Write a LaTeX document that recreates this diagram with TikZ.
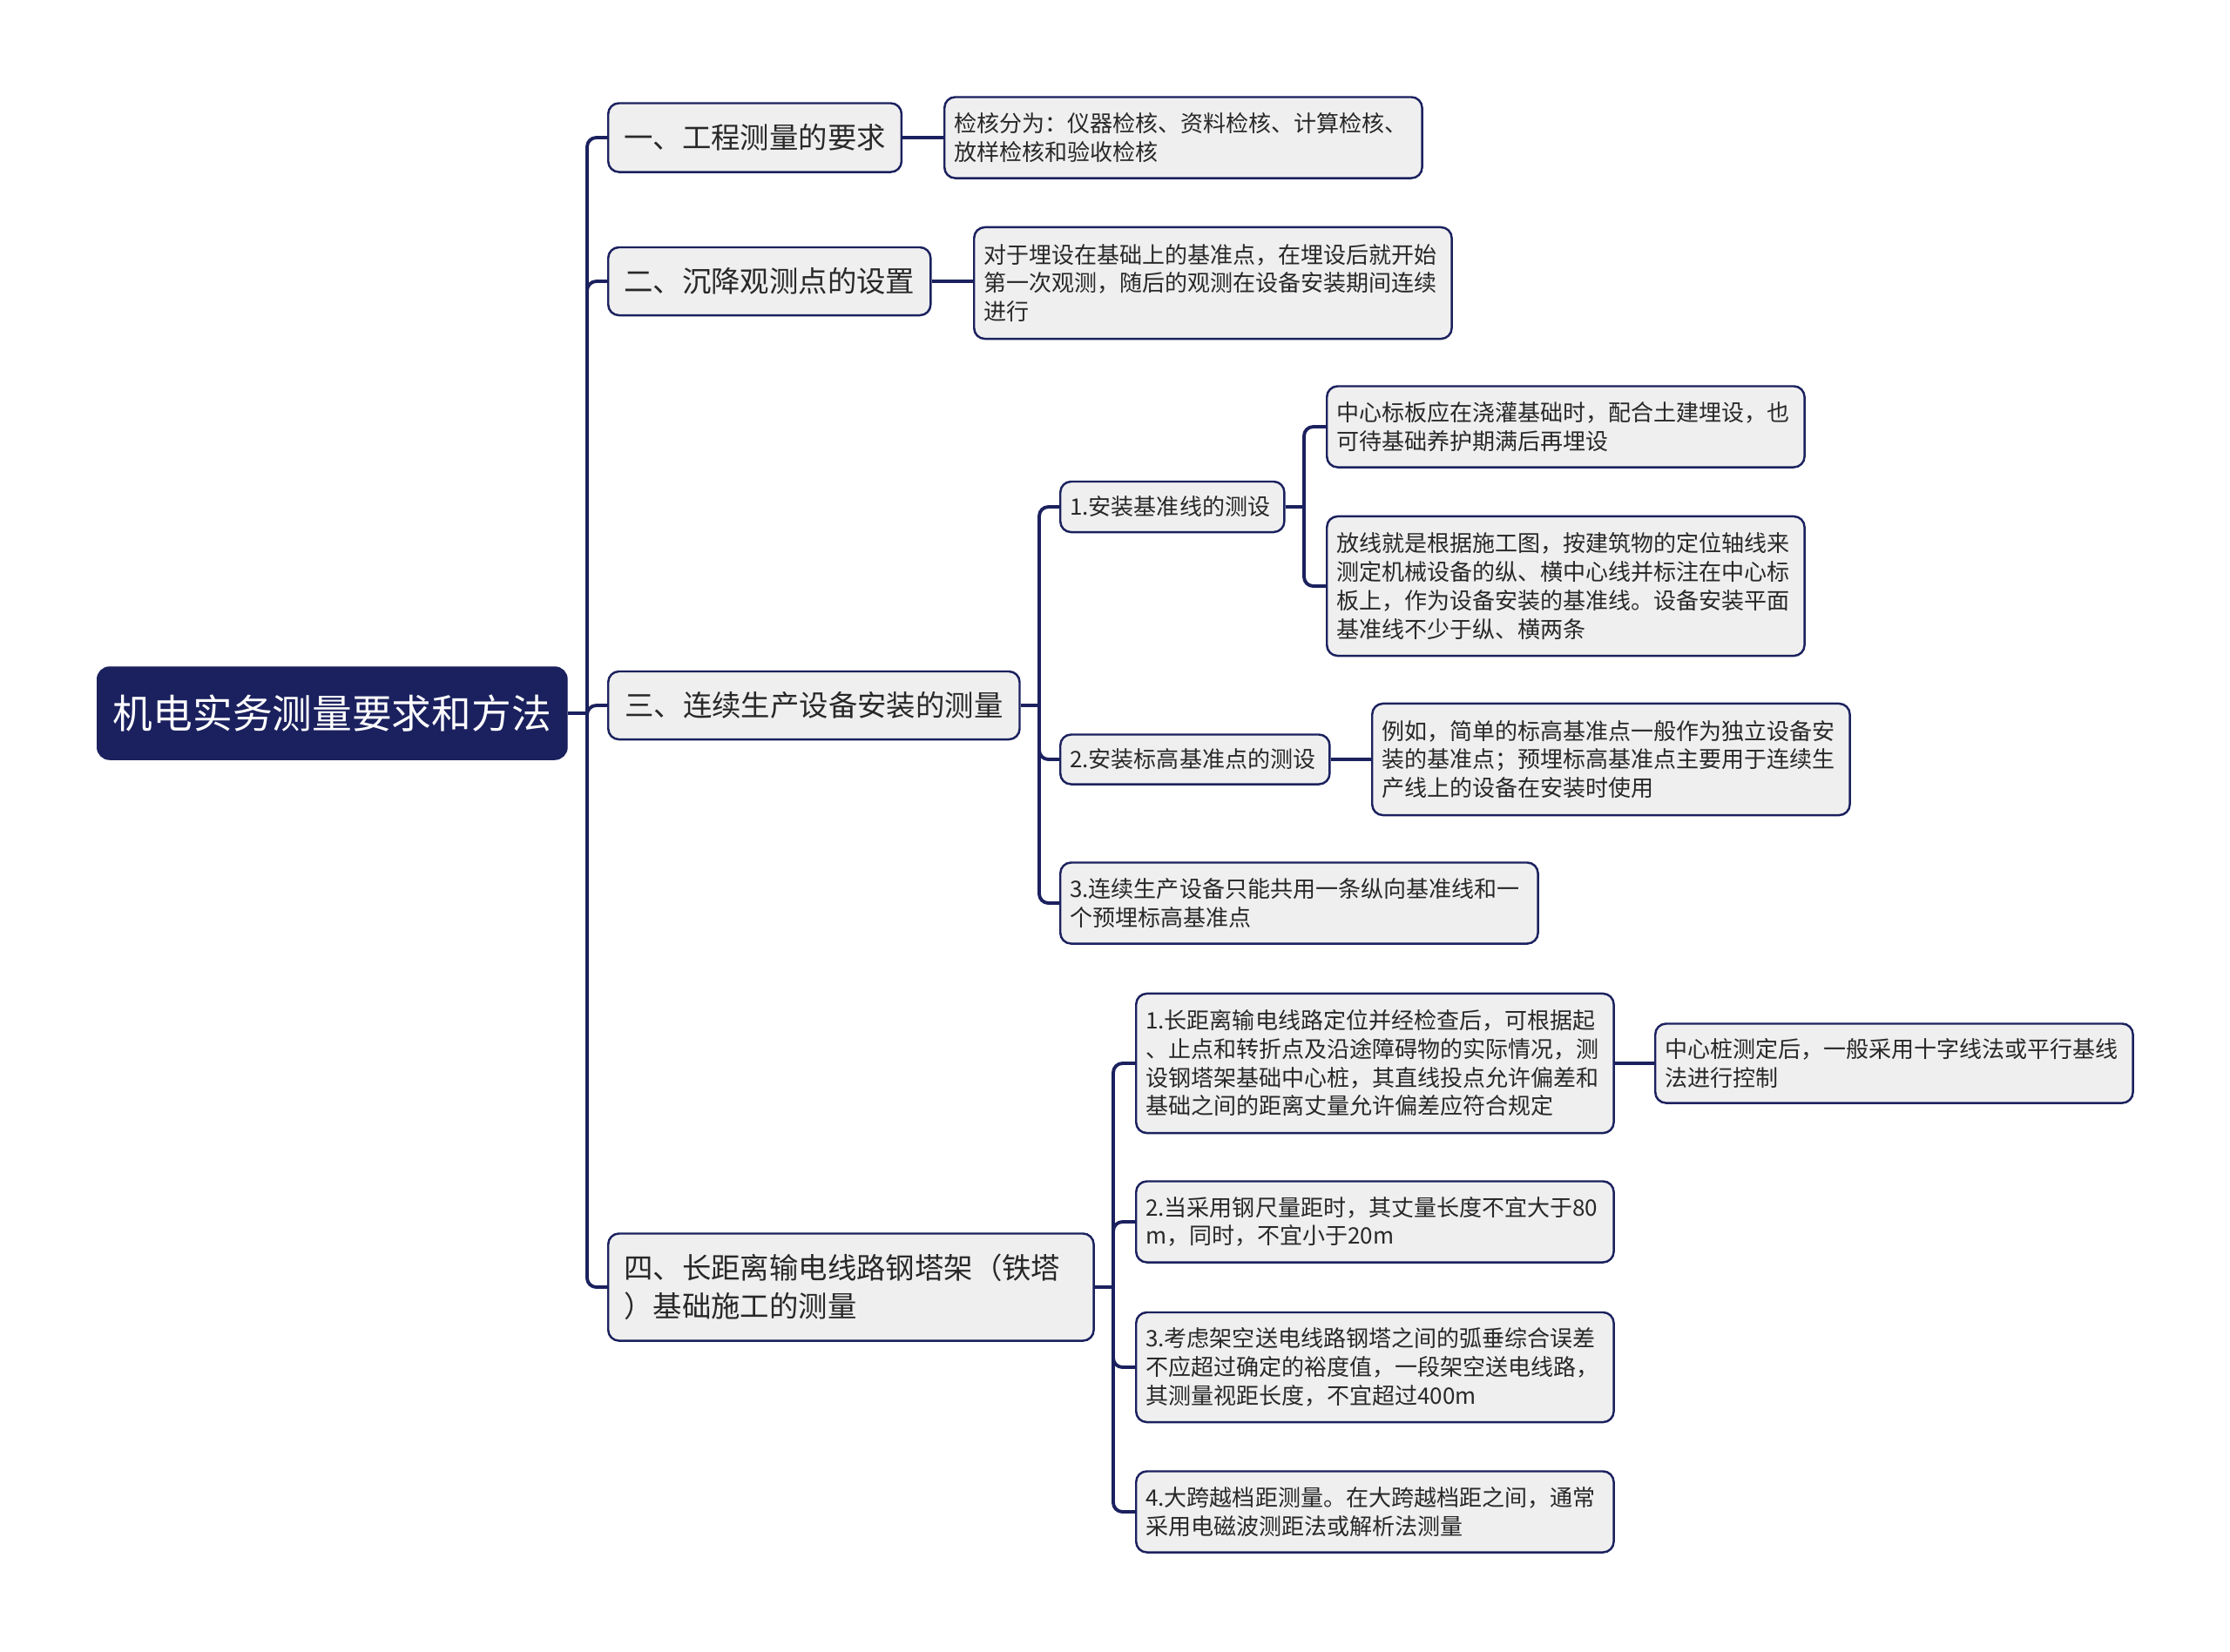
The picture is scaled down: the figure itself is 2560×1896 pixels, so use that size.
\documentclass[tikz,border=0pt]{standalone}
\usepackage{fontspec}
\setmainfont{Noto Sans CJK SC}
\usepackage{xcolor}
\usepackage{tikz}
\usetikzlibrary{calc}
\definecolor{navy}{RGB}{27,33,94}
\definecolor{boxgray}{RGB}{239,239,239}
\definecolor{textgray}{RGB}{40,40,40}

\begin{document}
\begin{tikzpicture}[x=0.01cm,y=-0.01cm,
			root/.style={draw=navy,fill=navy,rounded corners=4pt,text=white,anchor=west,
				font=\fontsize{13}{16}\selectfont,inner sep=0pt},
			topic/.style={draw=navy,fill=boxgray,rounded corners=3.5pt,text=textgray,anchor=west,
				line width=0.7pt,align=left,inner xsep=0.18cm,font=\fontsize{9.5}{12.5}\selectfont},
			leaf/.style={topic,inner xsep=0.11cm,text width=5.26cm,font=\fontsize{7.4}{9.3}\selectfont},
			sub/.style={leaf,text width=#1},
			link/.style={draw=navy,line width=1.1pt,rounded corners=3pt},
			]
			% 画布
			\fill[white] (0,0) rectangle (2560,1896);
			\useasboundingbox (0,0) rectangle (2560,1896);
			
			% 中心主题
			\node[root,minimum width=5.39cm,minimum height=1.06cm] (root) at (111,819) {机电实务测量要求和方法};
			
			% 一级主题
			\node[topic,minimum width=3.36cm,minimum height=0.79cm] (t1) at (697,158) {一、工程测量的要求};
			\node[topic,minimum width=3.69cm,minimum height=0.78cm] (t2) at (697,323) {二、沉降观测点的设置};
			\node[topic,minimum width=4.72cm,minimum height=0.78cm] (t3) at (697,810) {三、连续生产设备安装的测量};
			\node[topic,text width=5.21cm,minimum height=1.23cm] (t4) at (697,1478) {四、长距离输电线路钢塔架（铁塔\\）基础施工的测量};
			
			% 一、二
			\node[leaf,minimum height=0.93cm] (t1a) at (1083,158) {检核分为：仪器检核、资料检核、计算检核、\\放样检核和验收检核};
			\node[leaf,minimum height=1.28cm] (t2a) at (1117,325) {对于埋设在基础上的基准点，在埋设后就开始\\第一次观测，随后的观测在设备安装期间连续\\进行};
			
			% 三
			\node[sub=2.35cm,minimum height=0.58cm] (t3a) at (1216,582) {1.安装基准线的测设};
			\node[sub=2.87cm,minimum height=0.57cm] (t3b) at (1216,872) {2.安装标高基准点的测设};
			\node[leaf,minimum height=0.93cm] (t3c) at (1216,1037) {3.连续生产设备只能共用一条纵向基准线和一\\个预埋标高基准点};
			\node[leaf,minimum height=0.93cm] (t3a1) at (1522,490) {中心标板应在浇灌基础时，配合土建埋设，也\\可待基础养护期满后再埋设};
			\node[leaf,minimum height=1.60cm] (t3a2) at (1522,673) {放线就是根据施工图，按建筑物的定位轴线来\\测定机械设备的纵、横中心线并标注在中心标\\板上，作为设备安装的基准线。设备安装平面\\基准线不少于纵、横两条};
			\node[leaf,minimum height=1.28cm] (t3b1) at (1574,872) {例如，简单的标高基准点一般作为独立设备安\\装的基准点；预埋标高基准点主要用于连续生\\产线上的设备在安装时使用};
			
			% 四
			\node[leaf,minimum height=1.60cm] (t4a) at (1303,1221) {1.长距离输电线路定位并经检查后，可根据起\\、止点和转折点及沿途障碍物的实际情况，测\\设钢塔架基础中心桩，其直线投点允许偏差和\\基础之间的距离丈量允许偏差应符合规定};
			\node[leaf,minimum height=0.93cm] (t4b) at (1303,1403) {2.当采用钢尺量距时，其丈量长度不宜大于80\\m，同时，不宜小于20m};
			\node[leaf,minimum height=1.26cm] (t4c) at (1303,1570) {3.考虑架空送电线路钢塔之间的弧垂综合误差\\不应超过确定的裕度值，一段架空送电线路，\\其测量视距长度，不宜超过400m};
			\node[leaf,minimum height=0.93cm] (t4d) at (1303,1736) {4.大跨越档距测量。在大跨越档距之间，通常\\采用电磁波测距法或解析法测量};
			\node[leaf,minimum height=0.91cm] (t4a1) at (1899,1221) {中心桩测定后，一般采用十字线法或平行基线\\法进行控制};
			
			% 连线
			\coordinate (j0) at (674,819);
			\draw[link] (root.east) -- (j0);
			\foreach \n in {t1,t2,t3,t4}
			\draw[link] (j0) |- (\n.west);
			
			\draw[link] (t1.east) -- (t1a.west);
			\draw[link] (t2.east) -- (t2.east -| t2a.west);
			
			\coordinate (j3) at (1193,810);
			\draw[link] (t3.east) -- (j3);
			\foreach \n in {t3a,t3b,t3c}
			\draw[link] (j3) |- (\n.west);
			
			\coordinate (j3a) at (1497,582);
			\draw[link] (t3a.east) -- (j3a);
			\foreach \n in {t3a1,t3a2}
			\draw[link] (j3a) |- (\n.west);
			\draw[link] (t3b.east) -- (t3b1.west);
			
			\coordinate (j4) at (1278,1478);
			\draw[link] (t4.east) -- (j4);
			\foreach \n in {t4a,t4b,t4c,t4d}
			\draw[link] (j4) |- (\n.west);
			\draw[link] (t4a.east) -- (t4a1.west);
		\end{tikzpicture}
\end{document}
